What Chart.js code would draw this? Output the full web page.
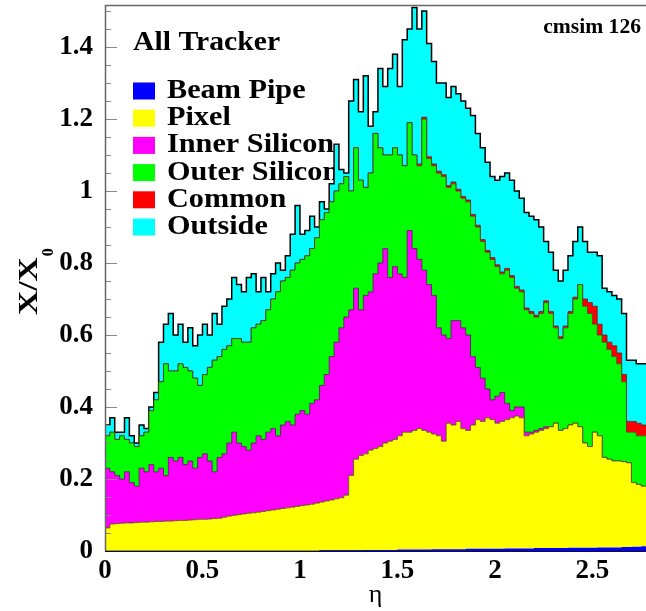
<!DOCTYPE html>
<html>
<head>
<meta charset="utf-8">
<script src="https://cdn.jsdelivr.net/npm/chart.js@4.4.1/dist/chart.umd.min.js"></script>
<style>
  html, body { margin: 0; padding: 0; background: #fff; }
</style>
</head>
<body>
<canvas id="chart" width="646" height="611"></canvas>
<script>
// eta bin edges (bin width 0.025)
const eta = [
  0,0.025,0.05,0.075,0.1,0.125,0.15,0.175,0.2,0.225,
  0.25,0.275,0.3,0.325,0.35,0.375,0.4,0.425,0.45,0.475,
  0.5,0.525,0.55,0.575,0.6,0.625,0.65,0.675,0.7,0.725,
  0.75,0.775,0.8,0.825,0.85,0.875,0.9,0.925,0.95,0.975,
  1,1.025,1.05,1.075,1.1,1.125,1.15,1.175,1.2,1.225,
  1.25,1.275,1.3,1.325,1.35,1.375,1.4,1.425,1.45,1.475,
  1.5,1.525,1.55,1.575,1.6,1.625,1.65,1.675,1.7,1.725,
  1.75,1.775,1.8,1.825,1.85,1.875,1.9,1.925,1.95,1.975,
  2,2.025,2.05,2.075,2.1,2.125,2.15,2.175,2.2,2.225,
  2.25,2.275,2.3,2.325,2.35,2.375,2.4,2.425,2.45,2.475,
  2.5,2.525,2.55,2.575,2.6,2.625,2.65,2.675,2.7,2.725,
  2.75,2.775
];

// cumulative X/X0 at the top of each component (stacked from the beam pipe up)
const beamPipeTop = [
  0.001,0.001,0.001,0.001,0.001,0.001,0.001,0.001,0.001,0.001,
  0.001,0.001,0.001,0.001,0.001,0.001,0.001,0.001,0.001,0.001,
  0.001,0.001,0.001,0.001,0.001,0.001,0.001,0.001,0.001,0.001,
  0.001,0.001,0.001,0.001,0.001,0.001,0.001,0.001,0.001,0.001,
  0.001,0.001,0.001,0.001,0.002,0.002,0.002,0.002,0.002,0.002,
  0.002,0.002,0.002,0.003,0.003,0.003,0.003,0.003,0.003,0.003,
  0.004,0.004,0.004,0.004,0.004,0.004,0.004,0.005,0.005,0.005,
  0.005,0.005,0.005,0.005,0.006,0.006,0.006,0.006,0.006,0.006,
  0.006,0.006,0.007,0.007,0.007,0.007,0.007,0.007,0.008,0.008,
  0.008,0.008,0.008,0.008,0.008,0.009,0.009,0.009,0.009,0.009,
  0.009,0.010,0.010,0.010,0.010,0.010,0.011,0.011,0.012,0.012,
  0.013,0.013
];
const pixelTop = [
  0.064,0.075,0.076,0.077,0.078,0.078,0.079,0.080,0.080,0.081,
  0.082,0.082,0.083,0.083,0.084,0.085,0.085,0.086,0.087,0.088,
  0.088,0.089,0.090,0.091,0.094,0.097,0.099,0.101,0.103,0.105,
  0.106,0.108,0.110,0.112,0.114,0.116,0.118,0.120,0.122,0.124,
  0.126,0.128,0.130,0.133,0.136,0.139,0.142,0.145,0.148,0.155,
  0.210,0.255,0.265,0.270,0.280,0.285,0.290,0.300,0.305,0.310,
  0.320,0.330,0.330,0.335,0.340,0.335,0.330,0.325,0.320,0.305,
  0.355,0.350,0.360,0.340,0.335,0.350,0.365,0.360,0.370,0.365,
  0.355,0.360,0.365,0.370,0.375,0.370,0.320,0.325,0.330,0.335,
  0.340,0.345,0.355,0.335,0.340,0.350,0.355,0.345,0.300,0.290,
  0.330,0.320,0.260,0.255,0.250,0.250,0.248,0.245,0.190,0.185,
  0.180,0.180
];
const innerSiliconTop = [
  0.23,0.22,0.21,0.20,0.22,0.19,0.18,0.23,0.22,0.24,
  0.22,0.23,0.21,0.26,0.25,0.26,0.24,0.25,0.23,0.26,
  0.27,0.25,0.22,0.26,0.27,0.30,0.33,0.30,0.29,0.28,
  0.30,0.32,0.31,0.33,0.34,0.32,0.35,0.36,0.35,0.38,
  0.39,0.38,0.41,0.42,0.46,0.49,0.54,0.58,0.62,0.65,
  0.67,0.73,0.67,0.71,0.72,0.77,0.80,0.84,0.76,0.79,
  0.77,0.76,0.89,0.84,0.81,0.78,0.74,0.71,0.62,0.60,
  0.59,0.64,0.64,0.62,0.60,0.54,0.51,0.48,0.45,0.42,
  0.43,0.44,0.41,0.39,0.40,0.40,0.33,0.33,0.335,0.34,
  0.345,0.345,0.355,0.335,0.34,0.35,0.355,0.345,0.30,0.29,
  0.33,0.32,0.26,0.255,0.25,0.25,0.248,0.245,0.19,0.185,
  0.18,0.18
];
const outerSiliconTop = [
  0.32,0.33,0.31,0.32,0.31,0.30,0.29,0.32,0.33,0.39,
  0.42,0.47,0.52,0.50,0.50,0.52,0.51,0.50,0.48,0.46,
  0.49,0.51,0.53,0.54,0.56,0.57,0.59,0.59,0.58,0.58,
  0.62,0.63,0.64,0.67,0.70,0.72,0.75,0.76,0.78,0.80,
  0.81,0.82,0.84,0.87,0.92,0.94,0.97,1.00,1.02,1.04,
  1.00,1.12,1.03,1.01,1.05,1.16,1.12,1.10,1.10,1.12,
  1.10,1.07,1.19,1.10,1.07,1.20,1.09,1.07,1.05,1.04,
  1.01,1.02,1.00,0.98,0.97,0.93,0.90,0.86,0.83,0.81,
  0.79,0.77,0.78,0.76,0.73,0.72,0.67,0.66,0.65,0.66,
  0.69,0.66,0.62,0.59,0.62,0.66,0.70,0.74,0.68,0.66,
  0.63,0.60,0.58,0.56,0.54,0.52,0.47,0.33,0.33,0.32,
  0.32,0.32
];
const commonTop = [
  0.32,0.33,0.31,0.32,0.31,0.30,0.29,0.32,0.33,0.39,
  0.42,0.47,0.52,0.50,0.50,0.52,0.51,0.50,0.48,0.46,
  0.49,0.51,0.53,0.54,0.56,0.57,0.59,0.59,0.58,0.58,
  0.62,0.63,0.64,0.67,0.70,0.72,0.75,0.76,0.78,0.80,
  0.81,0.82,0.84,0.87,0.92,0.94,0.97,1.00,1.02,1.04,
  1.00,1.12,1.03,1.01,1.05,1.16,1.12,1.10,1.10,1.12,
  1.10,1.07,1.19,1.10,1.075,1.205,1.095,1.075,1.055,1.045,
  1.015,1.025,1.005,0.985,0.975,0.935,0.905,0.865,0.835,0.815,
  0.795,0.775,0.785,0.765,0.735,0.725,0.675,0.665,0.655,0.665,
  0.695,0.665,0.625,0.595,0.625,0.665,0.705,0.74,0.70,0.69,
  0.68,0.63,0.60,0.58,0.57,0.55,0.49,0.36,0.36,0.355,
  0.35,0.35
];
const outsideTop = [
  0.35,0.37,0.33,0.33,0.37,0.32,0.30,0.35,0.34,0.40,
  0.44,0.58,0.63,0.66,0.60,0.63,0.58,0.62,0.57,0.60,
  0.63,0.60,0.66,0.63,0.68,0.70,0.76,0.74,0.72,0.76,
  0.77,0.72,0.76,0.72,0.77,0.80,0.78,0.82,0.88,0.96,
  0.88,0.89,0.93,0.90,0.97,0.95,1.02,1.13,1.06,1.05,
  1.25,1.31,1.22,1.32,1.18,1.22,1.34,1.29,1.34,1.38,
  1.29,1.42,1.45,1.51,1.45,1.50,1.41,1.36,1.30,1.30,
  1.26,1.29,1.27,1.25,1.23,1.21,1.16,1.12,1.08,1.04,
  1.03,1.04,1.05,1.03,1.00,0.98,0.94,0.93,0.92,0.90,
  0.86,0.83,0.78,0.75,0.78,0.82,0.86,0.90,0.86,0.83,
  0.83,0.82,0.73,0.72,0.71,0.70,0.66,0.53,0.53,0.52,
  0.52,0.52
];

const xTicks = [0, 0.5, 1, 1.5, 2, 2.5];
const yTicks = [0, 0.2, 0.4, 0.6, 0.8, 1, 1.2, 1.4];

const serif = '"Liberation Serif", "DejaVu Serif", serif';

function layer(label, tops, color, fill, line, lw) {
  return {
    label: label,
    data: eta.map((x, i) => ({ x: x, y: tops[i] })),
    backgroundColor: color,
    borderColor: line,
    borderWidth: lw,
    fill: fill,
    stepped: true,
    pointRadius: 0,
    tension: 0
  };
}

// legend, header texts, frame and tick marks drawn like the ROOT canvas
const decor = {
  id: 'decor',
  beforeDatasetsDraw(chart) {
    const ctx = chart.ctx;
    const a = chart.chartArea;
    ctx.save();
    // x axis line under the beam pipe layer
    ctx.strokeStyle = '#111';
    ctx.lineWidth = 2;
    ctx.beginPath();
    ctx.moveTo(a.left, a.bottom);
    ctx.lineTo(a.right, a.bottom);
    ctx.stroke();

    ctx.fillStyle = '#000';
    ctx.textBaseline = 'middle';
    ctx.textAlign = 'left';
    ctx.font = 'bold 27px ' + serif;
    ctx.save();
    ctx.translate(133, 43);
    ctx.scale(1.1, 1);
    ctx.fillText('All Tracker', 0, 0);
    ctx.restore();
    chart.data.datasets.forEach((ds, i) => {
      const cy = 91 + i * 27.2;
      ctx.fillStyle = ds.backgroundColor;
      ctx.fillRect(133, cy - 8.5, 22, 17);
      ctx.fillStyle = '#000';
      ctx.save();
      ctx.translate(167, cy);
      ctx.scale(1.12, 1);
      ctx.fillText(ds.label, 0, 0);
      ctx.restore();
    });
    ctx.font = 'bold 20px ' + serif;
    ctx.textAlign = 'right';
    ctx.save();
    ctx.translate(641, 28);
    ctx.scale(1.08, 1);
    ctx.fillText('cmsim 126', 0, 0);
    ctx.restore();
    ctx.restore();
  },
  afterDatasetsDraw(chart) {
    const ctx = chart.ctx;
    const a = chart.chartArea;
    const ys = chart.scales.y;
    ctx.save();
    ctx.strokeStyle = '#888';
    ctx.lineWidth = 1;
    for (let k = 1; k <= 30; k++) {
      const py = Math.round(ys.getPixelForValue(k * 0.05)) + 0.5;
      if (py < a.top) continue;
      const len = k % 4 === 0 ? 12 : 6;
      ctx.beginPath();
      ctx.moveTo(a.left, py);
      ctx.lineTo(a.left + len, py);
      ctx.stroke();
    }
    ctx.strokeStyle = '#666';
    ctx.lineWidth = 1.5;
    ctx.beginPath();
    ctx.moveTo(a.right, a.top + 0.5);
    ctx.lineTo(a.left + 0.5, a.top + 0.5);
    ctx.lineTo(a.left + 0.5, a.bottom);
    ctx.stroke();
    ctx.restore();
  },
  afterDraw(chart) {
    const ctx = chart.ctx;
    ctx.save();
    ctx.fillStyle = '#000';
    ctx.translate(37, 315);
    ctx.rotate(-Math.PI / 2);
    ctx.textBaseline = 'alphabetic';
    ctx.textAlign = 'left';
    ctx.font = 'bold 28px ' + serif;
    ctx.save();
    ctx.scale(1.2, 1);
    ctx.fillText('X/X', 0, 0);
    const w = ctx.measureText('X/X').width * 1.2;
    ctx.restore();
    ctx.font = 'bold 16px ' + serif;
    ctx.fillText('0', w + 1, 16);
    ctx.restore();
  }
};

new Chart(document.getElementById('chart'), {
  type: 'line',
  data: {
    datasets: [
      layer('Beam Pipe', beamPipeTop, '#0000ff', 'origin', 'rgba(0,0,0,0)', 0),
      layer('Pixel', pixelTop, '#ffff00', '-1', 'rgba(70,70,30,0.8)', 1),
      layer('Inner Silicon', innerSiliconTop, '#ff00ff', '-1', 'rgba(60,30,60,0.8)', 1),
      layer('Outer Silicon', outerSiliconTop, '#00ff00', '-1', 'rgba(90,40,30,0.8)', 1),
      layer('Common', commonTop, '#ff0000', '-1', 'rgba(90,30,30,0.8)', 1),
      layer('Outside', outsideTop, '#00ffff', '-1', '#000', 1.5)
    ]
  },
  options: {
    responsive: false,
    animation: false,
    layout: { padding: { top: 5, right: 0, left: 0, bottom: 0 } },
    plugins: { legend: { display: false }, tooltip: { enabled: false } },
    scales: {
      x: {
        type: 'linear',
        min: 0,
        max: 2.775,
        grid: { display: false, drawTicks: false },
        border: { display: false },
        afterBuildTicks: s => { s.ticks = xTicks.map(v => ({ value: v })); },
        afterFit: s => { s.height = 60; s.paddingLeft = 0; s.paddingRight = 0; },
        ticks: {
          autoSkip: false,
          maxRotation: 0,
          padding: 4,
          color: '#000',
          font: { family: serif, size: 27, weight: 'bold' },
          callback: v => String(v)
        },
        title: {
          display: true,
          text: 'η',
          color: '#000',
          font: { family: serif, size: 26 },
          padding: { top: 0, bottom: 0 }
        }
      },
      y: {
        min: 0,
        max: 1.5167,
        grid: { display: false, drawTicks: false },
        border: { display: false },
        afterBuildTicks: s => { s.ticks = yTicks.map(v => ({ value: v })); },
        afterFit: s => { s.width = 105; s.paddingTop = 0; s.paddingBottom = 0; },
        ticks: {
          padding: 12,
          color: '#000',
          font: { family: serif, size: 27, weight: 'bold' },
          callback: v => String(v)
        }
      }
    }
  },
  plugins: [decor]
});
</script>
</body>
</html>
